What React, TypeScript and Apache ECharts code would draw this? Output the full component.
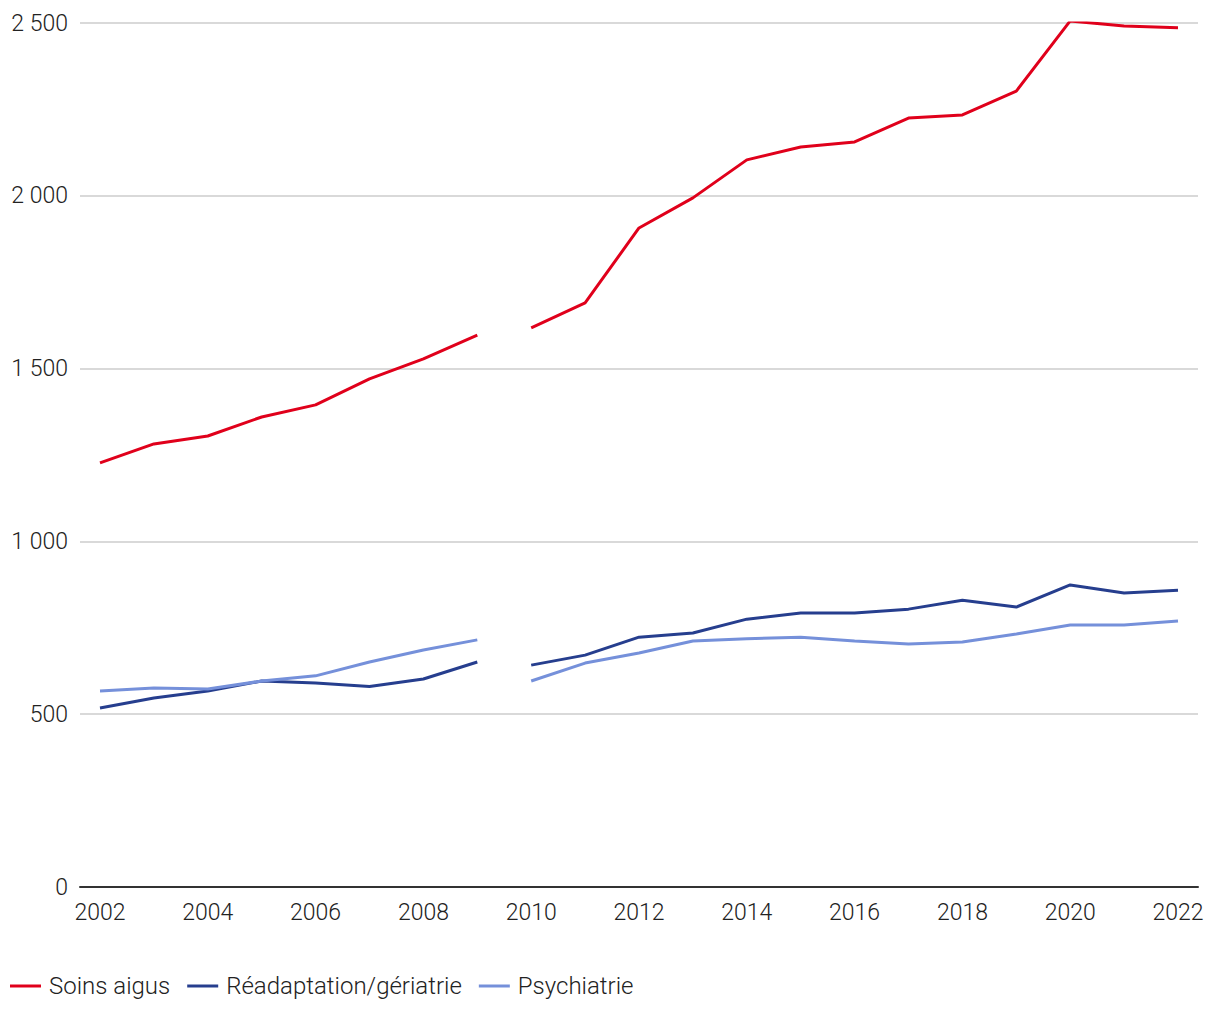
import React, { useEffect, useRef } from "react";
import * as echarts from "echarts";

const years = [2002, 2003, 2004, 2005, 2006, 2007, 2008, 2009, 2010, 2011, 2012, 2013, 2014, 2015, 2016, 2017, 2018, 2019, 2020, 2021, 2022];
const soinsAigus = [1227, 1282, 1305, 1360, 1395, 1470, 1528, 1597, 1618, 1690, 1907, 1994, 2104, 2141, 2156, 2225, 2234, 2303, 2506, 2491, 2486];
const readaptation = [518, 547, 567, 596, 590, 580, 602, 651, 642, 671, 723, 735, 775, 793, 793, 804, 830, 810, 874, 851, 859];
const psychiatrie = [567, 576, 573, 596, 611, 651, 686, 715, 596, 648, 677, 712, 718, 723, 712, 703, 709, 732, 758, 758, 770];
const xTickLabels = [2002, 2004, 2006, 2008, 2010, 2012, 2014, 2016, 2018, 2020, 2022];
const breakAfterYear = 2009;

const seriesDefs = [
  { name: "Soins aigus", color: "#e0001b", values: soinsAigus },
  { name: "Réadaptation/gériatrie", color: "#263e8e", values: readaptation },
  { name: "Psychiatrie", color: "#7590da", values: psychiatrie },
];

const FONT = "Roboto, 'Noto Sans', sans-serif";

function fmt(v: number) {
  const s = String(Math.round(v));
  return s.replace(/\B(?=(\d{3})+(?!\d))/g, " ");
}

export default function App() {
  const ref = useRef<HTMLDivElement>(null);
  useEffect(() => {
    if (!ref.current) return;
    const chart = echarts.init(ref.current, undefined, { renderer: "svg" });
    const series: any[] = [];
    seriesDefs.forEach((d) => {
      const before = years.map((y, i) => [y, d.values[i]]).filter((p) => p[0] <= breakAfterYear);
      const after = years.map((y, i) => [y, d.values[i]]).filter((p) => p[0] > breakAfterYear);
      [before, after].forEach((seg) => {
        series.push({
          name: d.name,
          type: "line",
          data: seg,
          symbol: "none",
          lineStyle: { color: d.color, width: 3 },
          itemStyle: { color: d.color },
          z: 3,
        });
      });
    });
    chart.setOption({
      animation: false,
      grid: { left: 72, right: 14, top: 15, bottom: 125, containLabel: false },
      legend: {
        left: 2,
        top: 966,
        padding: 0,
        icon: "rect",
        itemWidth: 31,
        itemHeight: 3,
        itemGap: 17,
        data: seriesDefs.map((d) => d.name),
        textStyle: { fontFamily: FONT, fontSize: 24, fontWeight: 300, color: "#222", padding: [0, 0, 0, 3] },
      },
      xAxis: {
        type: "value",
        min: 2001.629,
        max: 2022.371,
        axisLine: { show: true, lineStyle: { color: "#333", width: 2 } },
        axisTick: { show: false },
        splitLine: { show: false },
        axisLabel: {
          customValues: xTickLabels,
          formatter: (v: number) => String(v),
          fontFamily: FONT,
          fontSize: 23,
          fontWeight: 300,
          color: "#222",
          margin: 14,
        },
      },
      yAxis: {
        type: "value",
        min: 0,
        max: 2500,
        interval: 500,
        axisLine: { show: false },
        axisTick: { show: false },
        splitLine: { show: true, lineStyle: { color: "#cccccc", width: 1.5 } },
        axisLabel: {
          formatter: (v: number) => fmt(v),
          fontFamily: FONT,
          fontSize: 23,
          fontWeight: 300,
          color: "#222",
          margin: 12,
        },
      },
      series,
    });
    return () => chart.dispose();
  }, []);
  return <div ref={ref} style={{ width: 1204, height: 1004 }} />;
}
